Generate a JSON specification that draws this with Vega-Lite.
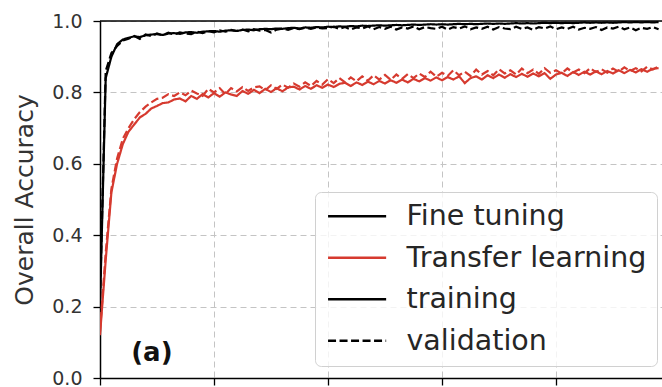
{
  "$schema": "https://vega.github.io/schema/vega-lite/v6.json",
  "width": 562,
  "height": 357,
  "autosize": {"type": "none"},
  "padding": {"left": 100, "top": 21, "right": 0, "bottom": 9},
  "background": "white",
  "config": {
    "view": {"stroke": null},
    "font": "DejaVu Sans",
    "axis": {
      "domainColor": "#000000",
      "domainWidth": 1.5,
      "tickColor": "#000000",
      "tickWidth": 1.3,
      "labelFont": "DejaVu Sans",
      "titleFont": "DejaVu Sans",
      "gridColor": "#c4c4c4",
      "gridDash": [6, 4],
      "gridWidth": 1
    }
  },
  "datasets": {
    "curves": [
      {"epoch":0,"ft_train":0.20,"ft_val":0.22,"tl_train":0.12,"tl_val":0.13},
      {"epoch":1,"ft_train":0.84,"ft_val":0.86,"tl_train":0.33,"tl_val":0.35},
      {"epoch":2,"ft_train":0.90,"ft_val":0.91,"tl_train":0.52,"tl_val":0.53},
      {"epoch":3,"ft_train":0.935,"ft_val":0.93,"tl_train":0.60,"tl_val":0.615},
      {"epoch":4,"ft_train":0.948,"ft_val":0.945,"tl_train":0.655,"tl_val":0.67},
      {"epoch":5,"ft_train":0.953,"ft_val":0.95,"tl_train":0.69,"tl_val":0.70},
      {"epoch":6,"ft_train":0.957,"ft_val":0.958,"tl_train":0.71,"tl_val":0.725},
      {"epoch":7,"ft_train":0.955,"ft_val":0.95,"tl_train":0.73,"tl_val":0.745},
      {"epoch":8,"ft_train":0.960,"ft_val":0.962,"tl_train":0.74,"tl_val":0.76},
      {"epoch":9,"ft_train":0.962,"ft_val":0.958,"tl_train":0.755,"tl_val":0.772},
      {"epoch":10,"ft_train":0.963,"ft_val":0.965,"tl_train":0.762,"tl_val":0.782},
      {"epoch":11,"ft_train":0.961,"ft_val":0.96,"tl_train":0.77,"tl_val":0.785},
      {"epoch":12,"ft_train":0.965,"ft_val":0.967,"tl_train":0.772,"tl_val":0.795},
      {"epoch":13,"ft_train":0.966,"ft_val":0.962,"tl_train":0.78,"tl_val":0.79},
      {"epoch":14,"ft_train":0.964,"ft_val":0.968,"tl_train":0.783,"tl_val":0.80},
      {"epoch":15,"ft_train":0.968,"ft_val":0.965,"tl_train":0.775,"tl_val":0.792},
      {"epoch":16,"ft_train":0.969,"ft_val":0.963,"tl_train":0.79,"tl_val":0.805},
      {"epoch":17,"ft_train":0.967,"ft_val":0.97,"tl_train":0.782,"tl_val":0.797},
      {"epoch":18,"ft_train":0.970,"ft_val":0.966,"tl_train":0.795,"tl_val":0.79},
      {"epoch":19,"ft_train":0.971,"ft_val":0.972,"tl_train":0.786,"tl_val":0.81},
      {"epoch":20,"ft_train":0.972,"ft_val":0.968,"tl_train":0.798,"tl_val":0.80},
      {"epoch":21,"ft_train":0.970,"ft_val":0.974,"tl_train":0.788,"tl_val":0.812},
      {"epoch":22,"ft_train":0.973,"ft_val":0.97,"tl_train":0.80,"tl_val":0.795},
      {"epoch":23,"ft_train":0.974,"ft_val":0.975,"tl_train":0.794,"tl_val":0.812},
      {"epoch":24,"ft_train":0.972,"ft_val":0.972,"tl_train":0.79,"tl_val":0.803},
      {"epoch":25,"ft_train":0.975,"ft_val":0.976,"tl_train":0.804,"tl_val":0.815},
      {"epoch":26,"ft_train":0.976,"ft_val":0.971,"tl_train":0.796,"tl_val":0.804},
      {"epoch":27,"ft_train":0.974,"ft_val":0.977,"tl_train":0.807,"tl_val":0.814},
      {"epoch":28,"ft_train":0.977,"ft_val":0.973,"tl_train":0.798,"tl_val":0.817},
      {"epoch":29,"ft_train":0.978,"ft_val":0.975,"tl_train":0.81,"tl_val":0.806},
      {"epoch":30,"ft_train":0.977,"ft_val":0.968,"tl_train":0.801,"tl_val":0.82},
      {"epoch":31,"ft_train":0.979,"ft_val":0.976,"tl_train":0.812,"tl_val":0.81},
      {"epoch":32,"ft_train":0.978,"ft_val":0.979,"tl_train":0.803,"tl_val":0.822},
      {"epoch":33,"ft_train":0.980,"ft_val":0.975,"tl_train":0.814,"tl_val":0.813},
      {"epoch":34,"ft_train":0.981,"ft_val":0.98,"tl_train":0.816,"tl_val":0.825},
      {"epoch":35,"ft_train":0.979,"ft_val":0.977,"tl_train":0.808,"tl_val":0.816},
      {"epoch":36,"ft_train":0.982,"ft_val":0.981,"tl_train":0.818,"tl_val":0.828},
      {"epoch":37,"ft_train":0.981,"ft_val":0.978,"tl_train":0.81,"tl_val":0.818},
      {"epoch":38,"ft_train":0.983,"ft_val":0.982,"tl_train":0.82,"tl_val":0.832},
      {"epoch":39,"ft_train":0.982,"ft_val":0.979,"tl_train":0.813,"tl_val":0.822},
      {"epoch":40,"ft_train":0.984,"ft_val":0.98,"tl_train":0.822,"tl_val":0.837},
      {"epoch":41,"ft_train":0.983,"ft_val":0.984,"tl_train":0.815,"tl_val":0.826},
      {"epoch":42,"ft_train":0.985,"ft_val":0.978,"tl_train":0.824,"tl_val":0.84},
      {"epoch":43,"ft_train":0.984,"ft_val":0.983,"tl_train":0.827,"tl_val":0.828},
      {"epoch":44,"ft_train":0.986,"ft_val":0.976,"tl_train":0.818,"tl_val":0.842},
      {"epoch":45,"ft_train":0.985,"ft_val":0.982,"tl_train":0.828,"tl_val":0.831},
      {"epoch":46,"ft_train":0.987,"ft_val":0.979,"tl_train":0.821,"tl_val":0.845},
      {"epoch":47,"ft_train":0.986,"ft_val":0.985,"tl_train":0.83,"tl_val":0.833},
      {"epoch":48,"ft_train":0.987,"ft_val":0.977,"tl_train":0.823,"tl_val":0.848},
      {"epoch":49,"ft_train":0.988,"ft_val":0.983,"tl_train":0.832,"tl_val":0.836},
      {"epoch":50,"ft_train":0.987,"ft_val":0.978,"tl_train":0.825,"tl_val":0.849},
      {"epoch":51,"ft_train":0.988,"ft_val":0.984,"tl_train":0.834,"tl_val":0.835},
      {"epoch":52,"ft_train":0.989,"ft_val":0.976,"tl_train":0.827,"tl_val":0.85},
      {"epoch":53,"ft_train":0.988,"ft_val":0.982,"tl_train":0.836,"tl_val":0.838},
      {"epoch":54,"ft_train":0.989,"ft_val":0.979,"tl_train":0.828,"tl_val":0.851},
      {"epoch":55,"ft_train":0.990,"ft_val":0.985,"tl_train":0.838,"tl_val":0.84},
      {"epoch":56,"ft_train":0.989,"ft_val":0.977,"tl_train":0.831,"tl_val":0.853},
      {"epoch":57,"ft_train":0.990,"ft_val":0.983,"tl_train":0.84,"tl_val":0.843},
      {"epoch":58,"ft_train":0.991,"ft_val":0.98,"tl_train":0.833,"tl_val":0.858},
      {"epoch":59,"ft_train":0.990,"ft_val":0.978,"tl_train":0.842,"tl_val":0.844},
      {"epoch":60,"ft_train":0.991,"ft_val":0.984,"tl_train":0.834,"tl_val":0.855},
      {"epoch":61,"ft_train":0.990,"ft_val":0.976,"tl_train":0.843,"tl_val":0.846},
      {"epoch":62,"ft_train":0.991,"ft_val":0.983,"tl_train":0.836,"tl_val":0.862},
      {"epoch":63,"ft_train":0.992,"ft_val":0.979,"tl_train":0.845,"tl_val":0.848},
      {"epoch":64,"ft_train":0.991,"ft_val":0.985,"tl_train":0.826,"tl_val":0.858},
      {"epoch":65,"ft_train":0.992,"ft_val":0.977,"tl_train":0.84,"tl_val":0.846},
      {"epoch":66,"ft_train":0.991,"ft_val":0.982,"tl_train":0.845,"tl_val":0.864},
      {"epoch":67,"ft_train":0.992,"ft_val":0.978,"tl_train":0.836,"tl_val":0.85},
      {"epoch":68,"ft_train":0.993,"ft_val":0.984,"tl_train":0.848,"tl_val":0.86},
      {"epoch":69,"ft_train":0.992,"ft_val":0.976,"tl_train":0.84,"tl_val":0.848},
      {"epoch":70,"ft_train":0.993,"ft_val":0.983,"tl_train":0.85,"tl_val":0.865},
      {"epoch":71,"ft_train":0.992,"ft_val":0.979,"tl_train":0.841,"tl_val":0.853},
      {"epoch":72,"ft_train":0.993,"ft_val":0.977,"tl_train":0.851,"tl_val":0.862},
      {"epoch":73,"ft_train":0.994,"ft_val":0.984,"tl_train":0.843,"tl_val":0.85},
      {"epoch":74,"ft_train":0.993,"ft_val":0.978,"tl_train":0.852,"tl_val":0.867},
      {"epoch":75,"ft_train":0.994,"ft_val":0.982,"tl_train":0.844,"tl_val":0.854},
      {"epoch":76,"ft_train":0.993,"ft_val":0.975,"tl_train":0.853,"tl_val":0.864},
      {"epoch":77,"ft_train":0.994,"ft_val":0.983,"tl_train":0.845,"tl_val":0.852},
      {"epoch":78,"ft_train":0.995,"ft_val":0.979,"tl_train":0.854,"tl_val":0.868},
      {"epoch":79,"ft_train":0.994,"ft_val":0.985,"tl_train":0.838,"tl_val":0.855},
      {"epoch":80,"ft_train":0.995,"ft_val":0.977,"tl_train":0.85,"tl_val":0.862},
      {"epoch":81,"ft_train":0.994,"ft_val":0.982,"tl_train":0.855,"tl_val":0.853},
      {"epoch":82,"ft_train":0.995,"ft_val":0.978,"tl_train":0.846,"tl_val":0.867},
      {"epoch":83,"ft_train":0.994,"ft_val":0.984,"tl_train":0.857,"tl_val":0.856},
      {"epoch":84,"ft_train":0.995,"ft_val":0.976,"tl_train":0.849,"tl_val":0.864},
      {"epoch":85,"ft_train":0.996,"ft_val":0.981,"tl_train":0.858,"tl_val":0.854},
      {"epoch":86,"ft_train":0.995,"ft_val":0.978,"tl_train":0.85,"tl_val":0.868},
      {"epoch":87,"ft_train":0.996,"ft_val":0.983,"tl_train":0.859,"tl_val":0.857},
      {"epoch":88,"ft_train":0.995,"ft_val":0.975,"tl_train":0.851,"tl_val":0.865},
      {"epoch":89,"ft_train":0.996,"ft_val":0.982,"tl_train":0.86,"tl_val":0.855},
      {"epoch":90,"ft_train":0.995,"ft_val":0.979,"tl_train":0.853,"tl_val":0.867},
      {"epoch":91,"ft_train":0.996,"ft_val":0.984,"tl_train":0.862,"tl_val":0.858},
      {"epoch":92,"ft_train":0.997,"ft_val":0.977,"tl_train":0.854,"tl_val":0.87},
      {"epoch":93,"ft_train":0.996,"ft_val":0.982,"tl_train":0.863,"tl_val":0.86},
      {"epoch":94,"ft_train":0.997,"ft_val":0.974,"tl_train":0.856,"tl_val":0.868},
      {"epoch":95,"ft_train":0.996,"ft_val":0.981,"tl_train":0.865,"tl_val":0.859},
      {"epoch":96,"ft_train":0.997,"ft_val":0.978,"tl_train":0.858,"tl_val":0.872},
      {"epoch":97,"ft_train":0.996,"ft_val":0.983,"tl_train":0.866,"tl_val":0.864},
      {"epoch":98,"ft_train":0.997,"ft_val":0.977,"tl_train":0.868,"tl_val":0.873}
    ],
    "keys": [
      {"key": "Fine tuning", "epoch": 0, "acc": 0},
      {"key": "Transfer learning", "epoch": 0, "acc": 0},
      {"key": "training", "epoch": 0, "acc": 0},
      {"key": "validation", "epoch": 0, "acc": 0}
    ]
  },
  "layer": [
    {
      "data": {"name": "curves"},
      "transform": [
        {"fold": ["ft_train", "ft_val", "tl_train", "tl_val"], "as": ["series", "acc"]}
      ],
      "mark": {"type": "line", "strokeWidth": 2.2, "clip": true},
      "encoding": {
        "x": {
          "field": "epoch",
          "type": "quantitative",
          "scale": {"domain": [0, 98.6], "nice": false, "zero": false},
          "axis": {
            "values": [0, 20, 40, 60, 80],
            "labels": false,
            "title": null,
            "tickSize": 7,
            "grid": true
          }
        },
        "y": {
          "field": "acc",
          "type": "quantitative",
          "scale": {"domain": [0, 1], "nice": false},
          "axis": {
            "values": [0, 0.1, 0.2, 0.3, 0.4, 0.5, 0.6, 0.7, 0.8, 0.9, 1.0],
            "labelExpr": "round(datum.value*10)%2==0 ? format(datum.value,'.1f') : ''",
            "labelFontSize": 19,
            "labelColor": "#333333",
            "labelPadding": 11,
            "tickSize": {"condition": {"test": "round(datum.value*10)%2==0", "value": 7}, "value": 4},
            "title": "Overall Accuracy",
            "titleFontSize": 25,
            "titleFontWeight": "normal",
            "titleColor": "#333333",
            "titlePadding": 14,
            "grid": true
          }
        },
        "color": {
          "field": "series",
          "type": "nominal",
          "scale": {
            "domain": ["ft_train", "ft_val", "tl_train", "tl_val"],
            "range": ["#000000", "#000000", "#d63a2f", "#d63a2f"]
          },
          "legend": null
        },
        "strokeDash": {
          "field": "series",
          "type": "nominal",
          "scale": {
            "domain": ["ft_train", "ft_val", "tl_train", "tl_val"],
            "range": [[1, 0], [8, 3.5], [1, 0], [8, 3.5]]
          },
          "legend": null
        }
      }
    },
    {
      "data": {"name": "keys"},
      "mark": {"type": "line", "opacity": 0, "strokeWidth": 2.5},
      "encoding": {
        "x": {"field": "epoch", "type": "quantitative"},
        "y": {"field": "acc", "type": "quantitative"},
        "color": {
          "field": "key",
          "type": "nominal",
          "scale": {
            "domain": ["Fine tuning", "Transfer learning", "training", "validation"],
            "range": ["#000000", "#d63a2f", "#000000", "#000000"]
          },
          "legend": {
            "orient": "none", "legendX": 215, "legendY": 171, "title": null,
            "symbolType": "M-1.6,0H6.7", "symbolSize": 196, "symbolStrokeWidth": 2.5, "symbolOpacity": 1,
            "labelFont": "DejaVu Sans", "labelFontSize": 28.5, "labelColor": "#262626",
            "labelOffset": 53, "labelLimit": 500, "rowPadding": 12.5, "padding": 10,
            "fillColor": "rgba(255,255,255,0.8)", "strokeColor": "#d0d0d0", "cornerRadius": 6
          }
        },
        "strokeDash": {
          "field": "key",
          "type": "nominal",
          "scale": {
            "domain": ["Fine tuning", "Transfer learning", "training", "validation"],
            "range": [[1, 0], [1, 0], [1, 0], [8, 3.5]]
          },
          "legend": {
            "orient": "none", "legendX": 215, "legendY": 171, "title": null,
            "symbolType": "M-1.6,0H6.7", "symbolSize": 196, "symbolStrokeWidth": 2.5, "symbolOpacity": 1,
            "labelFont": "DejaVu Sans", "labelFontSize": 28.5, "labelColor": "#262626",
            "labelOffset": 53, "labelLimit": 500, "rowPadding": 12.5, "padding": 10,
            "fillColor": "rgba(255,255,255,0.8)", "strokeColor": "#d0d0d0", "cornerRadius": 6
          }
        }
      }
    },
    {
      "data": {"values": [{}]},
      "mark": {"type": "text", "text": "(a)", "fontSize": 26, "fontWeight": "bold", "font": "DejaVu Sans", "color": "#111111", "align": "center", "baseline": "middle"},
      "encoding": {"x": {"datum": 9.1}, "y": {"datum": 0.07}}
    },
    {
      "data": {"values": [{}]},
      "mark": {"type": "rule", "color": "#000000", "strokeWidth": 1.5},
      "encoding": {"y": {"datum": 1}}
    }
  ],
  "resolve": {"scale": {"color": "independent", "strokeDash": "independent"}}
}
